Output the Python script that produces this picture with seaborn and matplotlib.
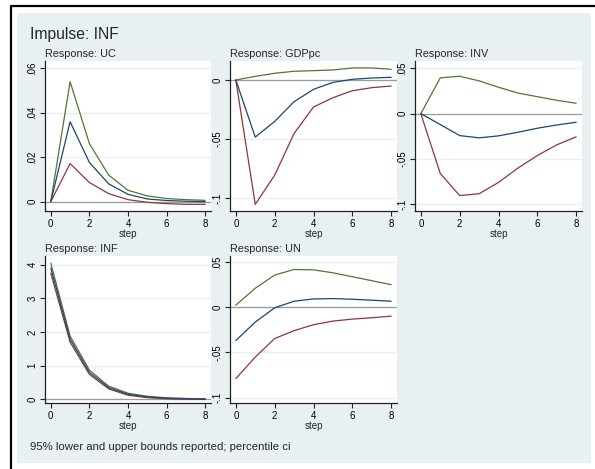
import matplotlib
matplotlib.use("Agg")
import matplotlib.pyplot as plt
import pandas as pd
import seaborn as sns
from matplotlib.patches import Rectangle
from matplotlib.lines import Line2D

# Impulse responses to an INF shock, with 95% percentile bounds
steps = [0, 1, 2, 3, 4, 5, 6, 7, 8]

uc_irf = [0.0, 0.0359, 0.0176, 0.0080, 0.0033, 0.0012, 0.0005, 0.0002, 0.0000]
uc_lo = [0.0, 0.0171, 0.0086, 0.0036, 0.0009, -0.0003, -0.0009, -0.0012, -0.0012]
uc_hi = [0.0, 0.0539, 0.0261, 0.0119, 0.0051, 0.0026, 0.0014, 0.0009, 0.0006]

gdp_irf = [0.0, -0.0484, -0.0351, -0.0184, -0.0079, -0.0020, 0.0006, 0.0017, 0.0023]
gdp_lo = [0.0, -0.1054, -0.0807, -0.0453, -0.0229, -0.0150, -0.0091, -0.0065, -0.0051]
gdp_hi = [0.0, 0.0031, 0.0057, 0.0074, 0.0079, 0.0085, 0.0102, 0.0102, 0.0091]

inv_irf = [0.0, -0.0120, -0.0242, -0.0267, -0.0245, -0.0205, -0.0161, -0.0125, -0.0095]
inv_lo = [0.0, -0.0659, -0.0903, -0.0883, -0.0758, -0.0600, -0.0462, -0.0344, -0.0256]
inv_hi = [0.0, 0.0394, 0.0412, 0.0361, 0.0291, 0.0227, 0.0187, 0.0147, 0.0114]

inf_irf = [3.90, 1.79, 0.80, 0.35, 0.15, 0.07, 0.03, 0.015, 0.007]
inf_lo = [3.75, 1.70, 0.74, 0.31, 0.12, 0.05, 0.015, 0.005, 0.0]
inf_hi = [4.05, 1.88, 0.87, 0.39, 0.18, 0.09, 0.045, 0.025, 0.015]

un_irf = [-0.0369, -0.0165, -0.0007, 0.0066, 0.0091, 0.0095, 0.0088, 0.0077, 0.0066]
un_lo = [-0.0790, -0.0552, -0.0347, -0.0260, -0.0194, -0.0154, -0.0132, -0.0117, -0.0099]
un_hi = [0.0022, 0.0209, 0.0355, 0.0417, 0.0413, 0.0380, 0.0337, 0.0293, 0.0249]

responses = ["UC", "GDPpc", "INV", "INF", "UN"]
series_irf = [uc_irf, gdp_irf, inv_irf, inf_irf, un_irf]
series_lo = [uc_lo, gdp_lo, inv_lo, inf_lo, un_lo]
series_hi = [uc_hi, gdp_hi, inv_hi, inf_hi, un_hi]

ytick_values = [
    [0, 0.02, 0.04, 0.06],
    [-0.1, -0.05, 0],
    [-0.1, -0.05, 0, 0.05],
    [0, 1, 2, 3, 4],
    [-0.1, -0.05, 0, 0.05],
]
ytick_labels = [
    ["0", ".02", ".04", ".06"],
    ["-.1", "-.05", "0"],
    ["-.1", "-.05", "0", ".05"],
    ["0", "1", "2", "3", "4"],
    ["-.1", "-.05", "0", ".05"],
]
ylims = [
    (-0.0042, 0.0632),
    (-0.111, 0.0161),
    (-0.1073, 0.058),
    (-0.11, 4.26),
    (-0.106, 0.0566),
]
xtick_values = [0, 2, 4, 6, 8]

records = []
for resp, irf, lo, hi in zip(responses, series_irf, series_lo, series_hi):
    for name, vals in (("irf", irf), ("lower", lo), ("upper", hi)):
        for s, v in zip(steps, vals):
            records.append({"response": resp, "series": name, "step": s, "value": v})
df = pd.DataFrame(records)

palette = {"irf": "#1a476f", "lower": "#90353b", "upper": "#55752f"}

sns.set_theme(style="white")
plt.rcParams["font.family"] = ["Liberation Sans", "DejaVu Sans"]

W, H = 595, 469
fig = plt.figure(figsize=(W / 100, H / 100), dpi=100)
fig.patch.set_facecolor("white")

# outer light background and frame
fig.patches.append(Rectangle((17 / W, 1 - 463 / H), (591 - 17) / W, (463 - 13) / H,
                             transform=fig.transFigure, facecolor="#e8f0f2",
                             edgecolor="none", zorder=-5))
fig.lines.append(Line2D([11 / W, 11 / W], [0, 1 - 6 / H], transform=fig.transFigure,
                        color="black", lw=1.6, zorder=-4))
fig.lines.append(Line2D([11 / W, 1], [1 - 6.5 / H, 1 - 6.5 / H], transform=fig.transFigure,
                        color="black", lw=1.6, zorder=-4))

cols = [(45, 211), (230, 397), (415, 582)]
rows = [(61, 211), (256, 403)]
positions = [(0, 0), (0, 1), (0, 2), (1, 0), (1, 1)]

for i, resp in enumerate(responses):
    r, c = positions[i]
    x0, x1 = cols[c]
    y0, y1 = rows[r]
    ax = fig.add_axes([x0 / W, 1 - y1 / H, (x1 - x0) / W, (y1 - y0) / H])
    ax.set_zorder(2)
    ax.set_facecolor("white")
    for yv in ytick_values[i]:
        ax.axhline(yv, color="#eaf1f3", lw=1.0, zorder=0)
    ax.axhline(0, color="#9b9b9b", lw=0.9, zorder=1)
    sub = df[df["response"] == resp]
    sns.lineplot(data=sub, x="step", y="value", hue="series",
                 hue_order=["upper", "lower", "irf"], palette=palette,
                 linewidth=0.9, legend=False, ax=ax, zorder=3)
    ax.set_xlim(-0.3, 8.3)
    ax.set_ylim(*ylims[i])
    ax.set_xticks(xtick_values)
    ax.set_xticklabels([str(v) for v in xtick_values])
    ax.set_yticks(ytick_values[i])
    ax.set_yticklabels(ytick_labels[i], rotation=90, va="center")
    ax.tick_params(axis="both", which="major", direction="out", length=3.5,
                   width=0.8, color="#222222", labelsize=7, pad=2,
                   labelcolor="black", left=True, bottom=True)
    for side in ("top", "right"):
        ax.spines[side].set_visible(False)
    for side in ("left", "bottom"):
        ax.spines[side].set_color("#222222")
        ax.spines[side].set_linewidth(0.9)
    ax.set_xlabel("step", fontsize=7, labelpad=0)
    ax.set_ylabel("")
    ax.set_title("Response: " + resp, loc="left", fontsize=7.8, pad=3)

fig.text(30 / W, 1 - 34 / H, "Impulse: INF", fontsize=11.3, va="center", ha="left")
fig.text(30 / W, 1 - 447 / H, "95% lower and upper bounds reported; percentile ci",
         fontsize=8.2, va="center", ha="left")

fig.savefig("out.png", dpi=100)
